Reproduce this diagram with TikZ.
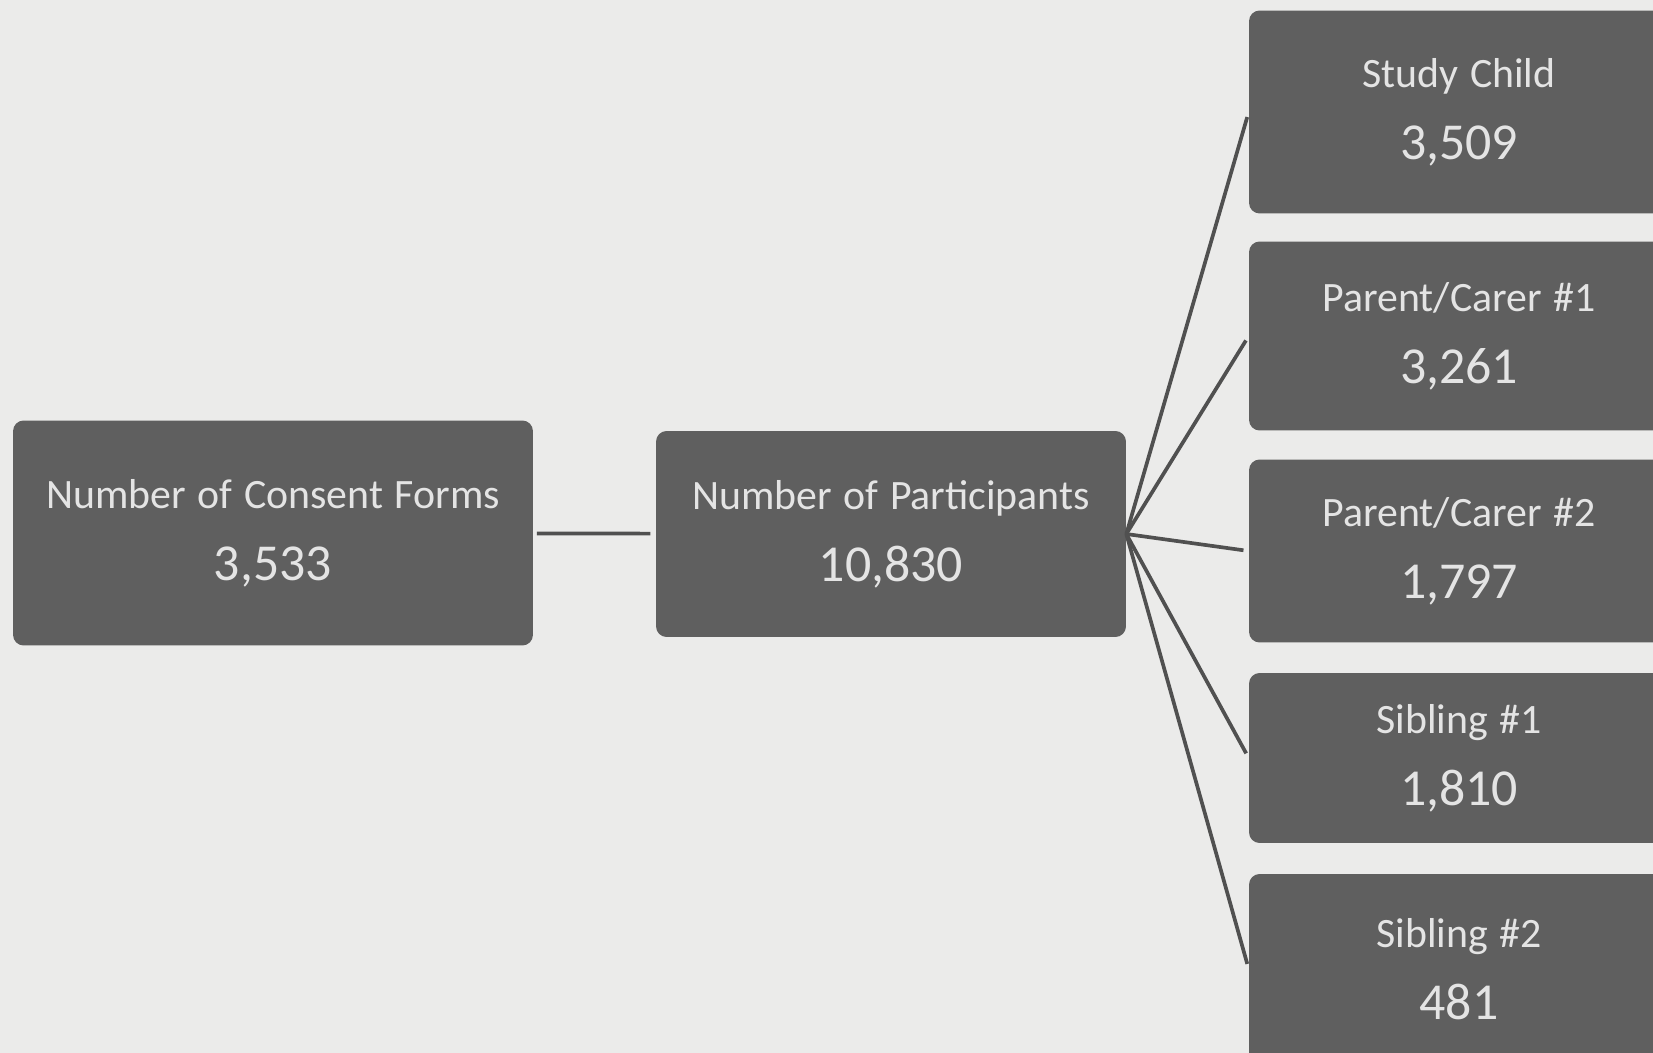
\documentclass[tikz,border=0pt]{standalone}
\usepackage{fontspec}
\setmainfont{Carlito}
\usepackage{xcolor}
\usepackage{tikz}
\usetikzlibrary{positioning}

\definecolor{paper}{HTML}{EBEBEA}
\definecolor{boxgrey}{HTML}{5F5F5F}
\definecolor{boxtext}{HTML}{E4E4E4}
\definecolor{linegrey}{HTML}{505050}

\tikzset{
  countbox/.style={fill=boxgrey, rounded corners=6pt, text=boxtext, align=center, inner sep=0pt},
  link/.style={draw=linegrey, line width=2.1pt, shorten <=2pt, shorten >=3pt}
}
\newcommand{\countlabel}[2]{{\fontsize{23.8}{26}\selectfont\spaceskip=0.28em #1\rule[-9pt]{0pt}{0pt}}\\[9pt]{\fontsize{29.5}{32}\selectfont\rule{0pt}{22pt}#2}}

\begin{document}
\begin{tikzpicture}[x=0.02cm,y=-0.02cm]
  \useasboundingbox (0,0) rectangle (1653,1053);
  \clip (0,0) rectangle (1653,1053);
  \fill[paper] (0,0) rectangle (1653,1053);

  \node[countbox, minimum width=10.4cm, minimum height=4.5cm] (forms) at (273,533) {\countlabel{Number of Consent Forms}{3,533}};
  \node[countbox, minimum width=9.4cm, minimum height=4.12cm] (part) at (891,534) {\countlabel{Number of Participants}{10,830}};

  \node[countbox, minimum width=8.4cm, minimum height=4.06cm] (child) at (1459,112) {\countlabel{Study Child}{3,509}};
  \node[countbox, minimum width=8.4cm, minimum height=3.78cm] (carer1) at (1459,336) {\countlabel{Parent/Carer \#1}{3,261}};
  \node[countbox, minimum width=8.4cm, minimum height=3.66cm] (carer2) at (1459,551) {\countlabel{Parent/Carer \#2}{1,797}};
  \node[countbox, minimum width=8.4cm, minimum height=3.4cm] (sib1) at (1459,758) {\countlabel{Sibling \#1}{1,810}};
  \node[countbox, minimum width=8.4cm, minimum height=3.8cm] (sib2) at (1459,969) {\countlabel{Sibling \#2}{481}};

  \draw[link] (forms) -- (part);
  \foreach \n in {child,carer1,carer2,sib1,sib2}
    \draw[link, shorten <=0pt] (part.east) -- (\n.west);
\end{tikzpicture}
\end{document}
